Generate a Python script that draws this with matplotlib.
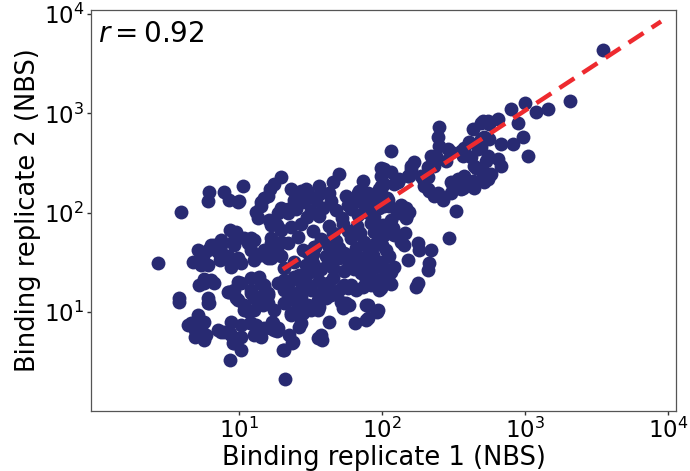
import numpy as np
import matplotlib
matplotlib.use("Agg")
from matplotlib import pyplot as plt

#------------------------------------------------------------------------
# Binding values (NBS), by region of the cloud
#------------------------------------------------------------------------

rep1_upper = [3508, 2065, 1449, 1194, 1000, 798, 893, 647, 551, 492,
              968, 1050, 824, 679, 560, 647, 533, 432, 492, 405,
              374, 368, 251, 247, 251, 290, 304, 356, 468, 419,
              439, 551, 679, 578, 551, 492, 508, 374, 339, 329,
              356, 432, 439, 516, 281, 239, 220, 231, 210, 210,
              187, 168, 159, 152, 132, 121, 197, 213, 231, 268,
              304, 314, 356, 329, 116, 103, 98.4, 136, 147, 130,
              110, 103, 98.4, 545, 368, 294, 508, 560, 516, 492,
              455, 108, 112, 125, 143, 154]
rep2_upper = [4306, 1343, 1113, 1038, 1281, 1113, 803, 881, 841, 803,
              579, 372, 492, 492, 553, 347, 331, 698, 553, 515,
              448, 372, 731, 579, 470, 440, 408, 418, 438, 362,
              294, 372, 294, 244, 217, 275, 233, 233, 217, 194,
              172, 210, 178, 203, 331, 372, 372, 294, 286, 227,
              233, 323, 294, 233, 217, 194, 185, 164, 146, 136,
              203, 180, 180, 105, 418, 275, 233, 121, 113, 100,
              136, 118, 172, 244, 178, 56.2, 841, 785, 579, 460,
              285, 141, 118, 108, 108, 103]

rep1_mid = [98.4, 103, 95.3, 116, 73.6, 69.1, 77.3, 50.0, 45.5, 42.5,
            37.4, 34.5, 28.0, 25.1, 56.0, 62.7, 90.8, 68.0, 79.8, 71.3,
            86.5, 98.4, 93.8, 130, 155, 159, 194, 210, 247, 304,
            147, 116, 119, 121, 136, 143, 179, 182, 220, 213,
            210, 179, 152, 121, 116, 98.4, 90.8, 110, 93.8, 83.8,
            77.3, 71.3, 98.4, 39.3, 42.0, 28.5, 24.3, 147, 145, 95.3,
            92.3, 77.3, 77.3, 64.7, 42.5, 38.0, 21.0, 20.3, 23.5, 173,
            116, 79.8, 73.6, 65.8, 54.2, 47.7, 44.0, 56.0, 51.5, 79.8,
            93.8, 35.6, 31.9, 27.2, 24.9, 26.3, 23.7, 31.9, 27.2, 24.3,
            81.0, 90.8, 73.6, 103, 112, 57.5, 50.0, 58.7, 53.0, 45.5,
            45.5, 50.0, 58.7, 62.7, 79.8, 37.4, 36.2, 28.0, 25.9, 26.3,
            29.5, 34.5, 36.2, 40.3, 28.0, 29.5, 26.3, 50.0, 45.5]
rep2_mid = [285, 194, 172, 255, 210, 164, 154, 244, 203, 160,
            160, 136, 160, 146, 146, 136, 141, 160, 160, 127,
            136, 185, 146, 203, 233, 275, 217, 172, 160, 160,
            89, 85.5, 70, 60.3, 51.2, 47.7, 49.5, 42.5, 42.5, 31.5,
            26.7, 19.7, 33.6, 28.6, 25.4, 32.1, 28.6, 22.6, 21.1, 18.8,
            21.1, 24.8, 17.4, 16.7, 19.7, 21.1, 22.6, 91.8, 63, 16.7,
            10.0, 11.8, 8.3, 7.75, 7.93, 5.3, 2.14, 4.12, 4.85, 17.9,
            19.3, 19.7, 17.9, 16.7, 18.8, 16.0, 14.9, 12.3, 12.6, 11.8,
            10.5, 13.2, 10.5, 11.2, 9.77, 7.1, 5.0, 16.7, 14.2, 13.2,
            42.5, 32.1, 28.6, 22.6, 25.4, 17.4, 16.7, 11.8, 11.0, 27.8,
            22.2, 35.2, 37.8, 29.9, 8.69, 5.85, 11.2, 9.77, 12.6, 16.0,
            20.1, 25.4, 14.9, 13.9, 42.5, 29.9, 23.7, 44.5, 40.6]

rep1_left = [19.7, 17.6, 10.6, 7.85, 8.55, 9.84, 6.17, 6.07, 3.93, 13.1,
             14.3, 15.9, 13.5, 16.7, 18.8, 22.0, 23.1, 27.2, 30.4, 28.5,
             9.54, 9.23, 12.1, 11.6, 7.48, 7.13, 7.3, 5.16, 4.76, 5.55,
             2.72, 8.38, 9.84, 10.3, 8.79, 12.7, 13.8, 15.0, 16.7, 15.9,
             18.5, 20.7, 24.3, 30.4, 33.5, 32.9, 30.4, 25.9, 20.7, 19.7,
             22.0, 25.9, 23.1, 19.7, 16.7, 5.69, 6.37, 5.25, 3.80, 6.07,
             10.3, 9.23, 12.1, 12.7, 15.0, 15.9, 6.07, 4.40, 4.92, 5.42,
             5.69, 7.48, 8.65, 8.65, 10.3, 9.23, 11.9, 12.7, 14.3, 17.0,
             17.6, 16.5, 4.92, 5.16, 4.61, 5.25, 5.55, 7.85, 8.79, 9.1,
             10.3, 12.1, 13.5, 10.3, 18.5, 20.7, 5.69, 6.68, 8.55, 9.84,
             10.8, 12.1, 13.8, 15.9, 17.6, 14.3, 20.7, 22.0, 25.9, 23.1,
             27.2, 25.9, 30.4, 35.6, 35.6, 18.8, 30.4, 27.2, 10.0, 15.0,
             14.3, 16.2, 18.5, 19.7, 22.0, 24.3, 7.48, 10.8, 12.7, 16.7,
             19.7, 6.37, 6.07, 7.48, 6.17, 5.69, 5.88, 8.38, 9.54, 9.84,
             10.8, 11.7, 12.1, 13.8, 15.0, 15.9, 14.7, 12.7, 13.1, 15.0,
             17.3, 18.8, 7.13, 8.79, 14.3, 16.7, 22.0, 24.3, 20.7, 23.1,
             22.4, 6.68, 9.23, 12.1, 5.42, 6.07, 3.80, 8.65, 16.3]
rep2_left = [229, 194, 185, 161, 136, 127, 161, 130, 103, 103,
             127, 146, 89, 81.7, 100, 108, 172, 164, 160, 127,
             64.7, 53.6, 56.2, 50, 47.7, 40.6, 33.6, 42.5, 32.1, 36.5,
             31.3, 36.5, 35.2, 31.3, 28.6, 33.6, 37.8, 42.5, 49.5, 35.2,
             42.5, 27.8, 32.1, 39.6, 45.6, 31.3, 24.6, 22.6, 21.1, 36.5,
             49.5, 57.5, 72.6, 67.7, 76, 21.8, 21.1, 18.8, 13.9, 13.9,
             19.7, 16.7, 15.6, 13.9, 17.9, 15.6, 12.3, 7.38, 6.58, 7.93,
             5.2, 6.3, 6.13, 3.27, 4.12, 4.85, 7.7, 5.85, 5.58, 7.93,
             6.58, 6.89, 5.58, 9.33, 7.77, 7.1, 6.13, 6.3, 5.85, 4.85,
             7.38, 7.75, 5.85, 5.58, 6.4, 4.12, 19.7, 19.7, 16.0, 13.2,
             10.5, 16.7, 14.2, 12.3, 10.5, 19.7, 16.7, 13.2, 14.2, 9.77,
             7.75, 11.2, 11.8, 10.5, 5.44, 19.7, 17.9, 19.7, 130, 141,
             117, 85.5, 76, 113, 100, 136, 53.6, 56.2, 53.6, 56.2,
             51.2, 47.7, 42.5, 40.6, 12.3, 7.93, 5.85, 16.0, 13.9, 20.1,
             11.8, 10.0, 22.0, 22.6, 18.8, 14.9, 11.8, 10.5, 7.38, 6.89,
             7.7, 6.89, 6.58, 7.93, 37.8, 35.2, 18.8, 14.9, 12.3, 9.33,
             5.85, 47.7, 47.7, 42.5, 29.9, 29.9, 12.6, 67.7, 172]

rep1_core = [29.5, 36.2, 25.1, 31.9, 38.6, 47.7, 60.7, 77.3, 95.3, 27.2,
             42.5, 53.3, 66.9, 83.8, 101, 37.4, 47.7, 60.7, 74.8, 95.3,
             32.9, 40.3, 54.2, 69.1, 86.5, 112, 37.4, 54.2, 63.7, 81.0,
             36.2, 60.7, 86.5, 103, 106, 86.5, 44.0, 58.0, 84.0, 30.0,
             36.0, 52.0, 68.0, 88.0, 33.0, 45.0, 58.0, 70.0, 88.0, 34.0,
             42.0, 66.0, 78.0, 100, 42.0, 58.0, 80.0, 100]
rep2_core = [172, 185, 110, 104, 112, 106, 109, 103, 111, 78,
             74, 77, 73, 79, 75, 55, 52, 56, 51, 54,
             38.5, 36.5, 39, 36, 38, 37, 27.5, 26, 27, 25.5,
             20.5, 19, 20, 60.3, 42.5, 47.7, 130, 120, 118, 90,
             93, 88, 94, 91, 65, 62, 66, 63, 64, 45,
             47, 44, 46, 47, 31, 33, 32, 30]

# regression line shown in the figure (log10 space)
fit_x = [20.2, 8930]
fit_slope = 0.942
fit_intercept = 0.203
r_value = 0.92

decade_ticks = [10, 100, 1000, 10000]

rep1 = rep1_upper + rep1_mid + rep1_left + rep1_core
rep2 = rep2_upper + rep2_mid + rep2_left + rep2_core

#------------------------------------------------------------------------
# Plot
#------------------------------------------------------------------------

fig = plt.figure(figsize=(6.9, 4.71), dpi=100)
ax = fig.add_axes([0.132, 0.127, 0.848, 0.852])

ax.scatter(rep1, rep2, s=100, color="#282a72", linewidths=0, zorder=2)

fx = np.array(fit_x)
fy = 10 ** fit_intercept * fx ** fit_slope
ax.plot(fx, fy, color="#ee2a2f", lw=3.2, ls=(0, (4, 2.2)), zorder=3)

ax.set_xscale("log")
ax.set_yscale("log")
ax.set_xlim(0.92, 11400)
ax.set_ylim(1.01, 11000)
ax.set_xticks(decade_ticks)
ax.set_yticks(decade_ticks)
ax.minorticks_off()

ax.tick_params(axis="both", which="major", labelsize=16.5, length=3,
               width=1, color="#333333", pad=2)
for sp in ax.spines.values():
    sp.set_color("#555555")
    sp.set_linewidth(0.9)

ax.set_xlabel("Binding replicate 1 (NBS)", fontsize=18.5, labelpad=1)
ax.set_ylabel("Binding replicate 2 (NBS)", fontsize=18.5, labelpad=2)

ax.text(0.012, 0.975, r"$r = %.2f$" % r_value, transform=ax.transAxes,
        fontsize=20, ha="left", va="top")

fig.savefig("out.png", dpi=100)
